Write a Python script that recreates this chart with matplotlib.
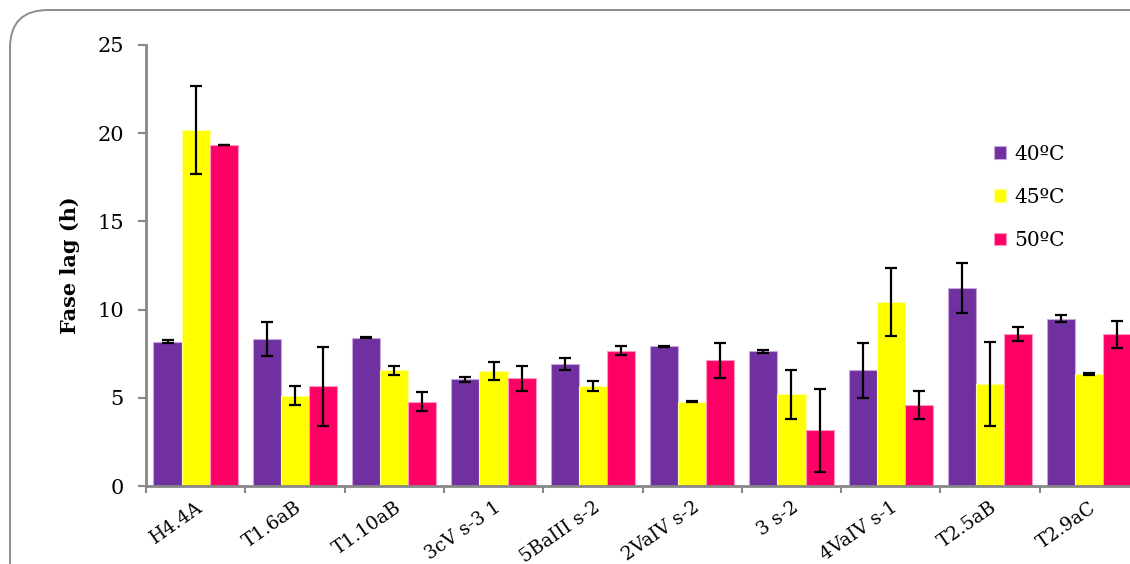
import matplotlib
matplotlib.use("Agg")
import matplotlib.pyplot as plt
import numpy as np
from matplotlib.patches import FancyBboxPatch

categories = ["H4.4A", "T1.6aB", "T1.10aB", "3cV s-3 1", "5BaIII s-2",
              "2VaIV s-2", "3 s-2", "4VaIV s-1", "T2.5aB", "T2.9aC"]
series_names = ["40ºC", "45ºC", "50ºC"]
vals_40 = [8.18, 8.32, 8.41, 6.06, 6.93, 7.92, 7.63, 6.55, 11.21, 9.49]
vals_45 = [20.18, 5.13, 6.57, 6.52, 5.68, 4.79, 5.21, 10.44, 5.78, 6.36]
vals_50 = [19.33, 5.66, 4.79, 6.10, 7.67, 7.12, 3.15, 4.60, 8.60, 8.60]
err_40 = [0.07, 0.96, 0.03, 0.14, 0.34, 0.02, 0.08, 1.55, 1.42, 0.20]
err_45 = [2.50, 0.56, 0.25, 0.53, 0.30, 0.01, 1.39, 1.94, 2.40, 0.04]
err_50 = [0.02, 2.24, 0.54, 0.70, 0.26, 0.97, 2.37, 0.80, 0.40, 0.77]
colors = ["#7030A0", "#FFFF00", "#FF0066"]
edge_colors = ["#C8A8DC", "#FFFF99", "#FF99C0"]
y_ticks = [0, 5, 10, 15, 20, 25]

W, H = 1130, 564
fig = plt.figure(figsize=(W / 100, H / 100), dpi=100)
fig.patch.set_facecolor("white")

# rounded outer frame
frame = FancyBboxPatch((0.10, -1.0), 13.0, 6.54, boxstyle="round,pad=0,rounding_size=0.38",
                       transform=fig.dpi_scale_trans, facecolor="none",
                       edgecolor="#8c8c8c", linewidth=1.4)
fig.patches.append(frame)

left = 146 / W
bottom = (H - 486) / H
width = 993 / W
height = (486 - 45) / H
ax = fig.add_axes([left, bottom, width, height])

x = np.arange(len(categories))
bw = 0.283
series = [(vals_40, err_40), (vals_45, err_45), (vals_50, err_50)]
for i, (v, e) in enumerate(series):
    pos = x + (i - 1) * bw
    ax.bar(pos, v, width=bw, color=colors[i], edgecolor=edge_colors[i],
           linewidth=0.8, label=series_names[i], zorder=2)
    ax.errorbar(pos, v, yerr=e, fmt="none", ecolor="black", elinewidth=1.6,
                capsize=4.5, capthick=1.6, zorder=3)

ax.set_xlim(-0.5, len(categories) - 0.5)
ax.set_ylim(0, 25)
ax.set_yticks(y_ticks)
ax.set_yticklabels([str(t) for t in y_ticks], fontsize=15, family="DejaVu Serif")

ax.set_xticks(np.arange(len(categories) + 1) - 0.5)
ax.set_xticklabels([])
ax.set_xticks(x, minor=True)
ax.set_xticklabels(categories, minor=True, rotation=35, ha="right",
                   rotation_mode="anchor", fontsize=13.5, family="DejaVu Serif")
ax.tick_params(axis="x", which="minor", length=0, pad=9)
ax.tick_params(axis="x", which="major", length=5, width=1.5, color="#888888")
ax.tick_params(axis="y", which="major", length=6, width=1.5, color="#888888", pad=10)

for s in ["top", "right"]:
    ax.spines[s].set_visible(False)
for s in ["left", "bottom"]:
    ax.spines[s].set_color("#888888")
    ax.spines[s].set_linewidth(2)

ax.set_ylabel("Fase lag (h)", fontsize=15, fontweight="bold", family="DejaVu Serif",
              labelpad=12)

leg = ax.legend(loc="upper left", bbox_to_anchor=(0.836, 0.815), frameon=False,
                prop={"family": "DejaVu Serif", "size": 14.5}, handlelength=0.6,
                handleheight=0.6, handletextpad=0.4, labelspacing=1.2)

fig.savefig("out.png", dpi=100)
